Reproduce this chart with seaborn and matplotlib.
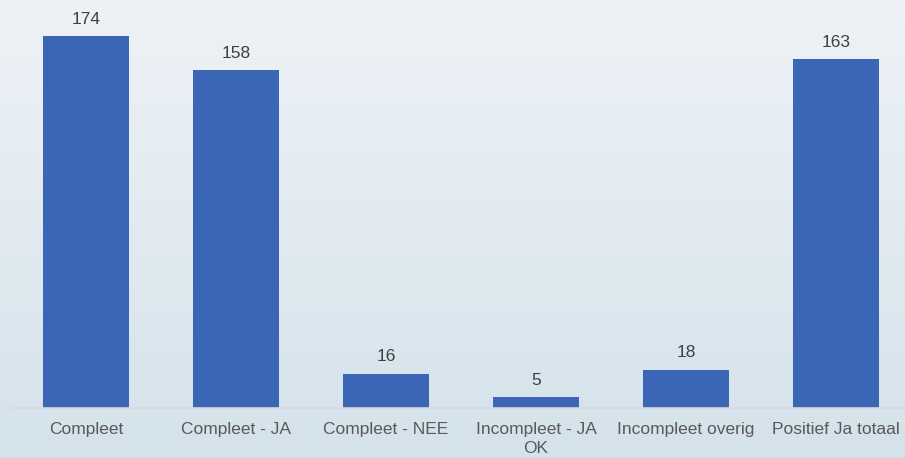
import numpy as np
import pandas as pd
import matplotlib
matplotlib.use("Agg")
import matplotlib.pyplot as plt
import seaborn as sns
from matplotlib.colors import LinearSegmentedColormap

# data
categories = ["Compleet", "Compleet - JA", "Compleet - NEE",
              "Incompleet - JA\nOK", "Incompleet overig", "Positief Ja totaal"]
values = [174, 158, 16, 5, 18, 163]

df = pd.DataFrame({"categorie": categories, "aantal": values})

sns.set_style("white")
plt.rcParams["font.family"] = ["Liberation Sans", "DejaVu Sans"]

W, H = 905, 458
fig = plt.figure(figsize=(W / 100, H / 100), dpi=100)

# achtergrond met verloop
bg = fig.add_axes([0, 0, 1, 1], zorder=0)
cmap = LinearSegmentedColormap.from_list("bg", ["#eef2f6", "#d4e2eb"])
grad = np.linspace(0, 1, 256).reshape(-1, 1)
bg.imshow(grad, aspect="auto", cmap=cmap, extent=[0, 1, 0, 1], origin="upper")
bg.set_axis_off()

# hoofd-as: basislijn op y=408 px, categorieen 150 px breed vanaf x=11
ax = fig.add_axes([11 / W, (H - 408) / H, 900 / W, 408 / H], zorder=1)
ax.patch.set_alpha(0)

sns.barplot(data=df, x="categorie", y="aantal", color="#3a66b5",
            width=0.573, saturation=1, linewidth=0, ax=ax)

ax.set_ylim(0, 190.8)
ax.set_xlim(-0.5, 5.5)
ax.bar_label(ax.containers[0], padding=6.7, fontsize=12.5, color="#404040")

ax.set_xlabel("")
ax.set_ylabel("")
ax.set_yticks([])
ax.tick_params(axis="x", length=0, pad=10, labelsize=12.5, labelcolor="#595959")
for lbl in ax.get_xticklabels():
    lbl.set_multialignment("center")
    lbl.set_linespacing(1.35)

for side in ["top", "right", "left"]:
    ax.spines[side].set_visible(False)
ax.spines["bottom"].set_color("#d9d9d9")
ax.spines["bottom"].set_linewidth(1.2)

fig.savefig("out.png", dpi=100)
